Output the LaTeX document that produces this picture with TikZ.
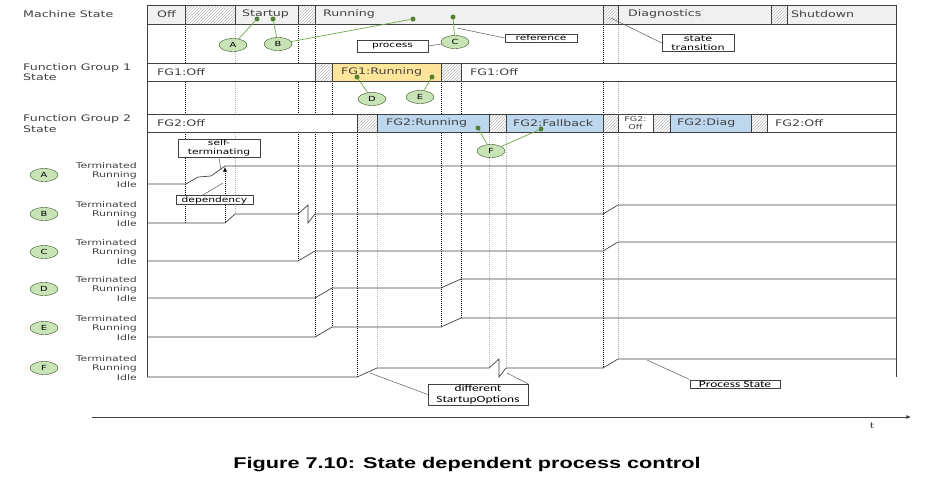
\documentclass[tikz,border=0pt]{standalone}
\usepackage{fontspec}
\setmainfont[FakeStretch=1.4]{DejaVu Sans}
\newfontfamily\carl[FakeStretch=1.4]{Carlito}
\newfontfamily\capf[FakeStretch=1.4]{Liberation Sans}
\usepackage{tikz}
\usetikzlibrary{arrows.meta,patterns,shapes.geometric}
\tikzset{>={Latex[width=1.4mm,length=1.6mm]}}
\definecolor{msgray}{RGB}{240,240,240}
\definecolor{fgyellow}{RGB}{255,229,153}
\definecolor{fgblue}{RGB}{189,215,238}
\definecolor{tagfill}{RGB}{200,228,182}
\definecolor{tagline}{RGB}{112,168,72}
\definecolor{tagdot}{RGB}{84,130,53}
\definecolor{ink}{RGB}{64,64,64}

\begin{document}
\begin{tikzpicture}[x=1pt,y=-1pt,font=\fontsize{9}{10}\selectfont]
\tikzstyle{bar}=[draw=ink,line width=0.7pt]
\tikzstyle{hatch}=[draw=ink,line width=0.6pt,preaction={fill=white},pattern=north east lines,pattern color=gray!55]
\tikzstyle{st}=[anchor=west,inner sep=0,text=ink]
\tikzstyle{proc}=[draw=ink,line width=0.7pt]
\tikzstyle{tr}=[black,line width=0.6pt,dash pattern=on 1.2pt off 0.8pt]
\tikzstyle{tg}=[gray!60,line width=0.6pt,dash pattern=on 1.2pt off 0.8pt]
\tikzstyle{tag}=[ellipse,draw=tagdot!60!black,fill=tagfill,minimum width=28pt,minimum height=13pt,inner sep=0,font=\fontsize{7}{7}\selectfont]
\tikzstyle{dot}=[circle,fill=tagdot,inner sep=0,minimum size=5pt]
\tikzstyle{note}=[draw=ink,fill=white,line width=0.6pt,align=center,inner xsep=0,inner ysep=1pt,font=\fontsize{7.6}{9}\selectfont]
\tikzstyle{lead}=[gray!70!black,line width=0.5pt]
\tikzstyle{link}=[tagline,line width=0.7pt]

\useasboundingbox (0,0) rectangle (936,480);

\foreach \x/\a/\b/\s in {185/24/223/tr,235/24/214/tg,298/24/261/tr,315/24/337/tr,332/81/327/tr,
  357/132/377/tr,377/132/368/tg,441/81/327/tr,461/81/318/tr,489/132/368/tg,506/132/368/tg,
  603/24/368/tr,618/24/359/tg}
  \draw[\s] (\x,\a) -- (\x,\b);
\draw[tr,->] (225,222) -- (225,167);

\draw[proc] (147,184) -- (186,184) -- (198,177) -- (211,176) -- (225,166) -- (896,166);
\draw[proc] (147,223) -- (225,223) -- (235,214) -- (298,214) -- (308,205) -- (308,223) -- (315,214)
  -- (603,214) -- (618,205) -- (896,205);
\draw[proc] (147,261) -- (298,261) -- (315,251) -- (603,251) -- (618,242) -- (896,242);
\draw[proc] (147,298) -- (315,298) -- (332,288) -- (441,288) -- (461,279) -- (896,279);
\draw[proc] (147,337) -- (315,337) -- (332,327) -- (441,327) -- (461,318) -- (896,318);
\draw[proc] (147,377) -- (357,377) -- (377,368) -- (489,368) -- (499,359) -- (499,377) -- (506,368)
  -- (603,368) -- (618,359) -- (896,359);
\draw[proc] (147,5) -- (147,377);
\draw[proc] (896,5) -- (896,377);

\draw[bar,fill=msgray] (147,5) rectangle (896,24);
\foreach \a/\b in {185/235,298/315,603/618,771/787}
  \draw[hatch] (\a,5) rectangle (\b,24);
\draw[bar,fill=white] (147,63) rectangle (896,81);
\draw[bar,fill=fgyellow] (332,63) rectangle (441,81);
\foreach \a/\b in {315/332,441/461}
  \draw[hatch] (\a,63) rectangle (\b,81);
\draw[bar,fill=white] (147,114) rectangle (896,132);
\foreach \a/\b in {377/489,506/603,670/751}
  \draw[bar,fill=fgblue] (\a,114) rectangle (\b,132);
\foreach \a/\b in {357/377,489/506,603/618,653/670,751/767}
  \draw[hatch] (\a,114) rectangle (\b,132);

\node[st] (ms1) at (157,14.5) {Off};
\node[st] (ms2) at (242,14.5) {Startup};
\node[st] (ms3) at (323,14.5) {Running};
\node[st] (ms4) at (628,14.5) {Diagnostics};
\node[st] (ms5) at (791,14.5) {Shutdown};
\node[st] (fg11) at (157,72) {FG1:Off};
\node[st] (fg12) at (341,72) {FG1:Running};
\node[st] (fg13) at (470,72) {FG1:Off};
\node[st] (fg21) at (157,123) {FG2:Off};
\node[st] (fg22) at (386,123) {FG2:Running};
\node[st] (fg23) at (513,123) {FG2:Fallback};
\node[text=ink,inner sep=0,align=center,font=\fontsize{6.8}{8}\selectfont] (fg24) at (635.5,123) {FG2:\\Off};
\node[st] (fg25) at (677,123) {FG2:Diag};
\node[st] (fg26) at (775,123) {FG2:Off};

\node[st] (lms) at (23,14.5) {Machine State};
\node[st,align=left,font=\fontsize{9}{10.5}\selectfont] (lfg1) at (23,72) {Function Group 1\\State};
\node[st,align=left,font=\fontsize{9}{10.5}\selectfont] (lfg2) at (23,123.5) {Function Group 2\\State};

\foreach \n/\y in {A/175,B/214,C/252,D/289,E/328,F/368} {
  \node[tag] (row\n) at (44,\y) {\n};
  \node[anchor=east,align=right,inner sep=0,text=ink,font=\fontsize{7.8}{9.3}\selectfont] (lab\n) at (137,\y) {Terminated\\Running\\Idle};
}

\node[tag] (tA) at (233,45) {A};
\node[tag] (tB) at (278,44) {B};
\node[tag] (tC) at (455,42) {C};
\node[tag] (tD) at (372,99) {D};
\node[tag] (tE) at (420,97) {E};
\node[tag] (tF) at (491,151) {F};
\node[dot] (dA) at (257,19) {};
\node[dot] (dB1) at (273,19) {};
\node[dot] (dB2) at (413,19) {};
\node[dot] (dC) at (453,17) {};
\node[dot] (dD) at (357,77) {};
\node[dot] (dE) at (432,77) {};
\node[dot] (dF1) at (478,128) {};
\node[dot] (dF2) at (541,129) {};
\draw[link] (tA) -- (dA);
\draw[link] (tB) -- (dB1);
\draw[link] (tB) -- (dB2);
\draw[link] (tC) -- (dC);
\draw[link] (tD) -- (dD);
\draw[link] (tE) -- (dE);
\draw[link] (tF) -- (dF1);
\draw[link] (tF) -- (dF2);

\node[note,minimum width=82pt] (nself) at (219,148) {self-\\terminating};
\node[note,minimum width=77pt] (ndep) at (214.5,200) {dependency};
\node[note,minimum width=71pt,minimum height=12pt] (nproc) at (392.5,46) {process};
\node[note,minimum width=72pt] (nref) at (541,38) {reference};
\node[note,minimum width=72pt,font=\fontsize{8}{9.5}\selectfont] (nstate) at (698,43) {state\\transition};
\node[note,minimum width=100pt,font=\carl\fontsize{9.6}{10.5}\selectfont] (nopt) at (478,394.5) {different\\StartupOptions};
\node[note,minimum width=90pt,font=\carl\fontsize{9.6}{10.5}\selectfont] (nps) at (735,384) {Process State};
\coordinate (pself) at (221,170);
\coordinate (pdep) at (223,183);
\coordinate (pref) at (457,28);
\coordinate (pst) at (611,18);
\coordinate (popt1) at (370,373);
\coordinate (popt2) at (507,373);
\coordinate (pps) at (647,360);
\draw[lead] (nself.south) -- (pself);
\draw[lead] (ndep.157) -- (pdep);
\draw[lead] (nproc.east) -- (tC);
\draw[lead] (nref.west) -- (pref);
\draw[lead] (nstate.west) -- (pst);
\draw[lead] (nopt.west) -- (popt1);
\draw[lead] (nopt.north east) -- (popt2);
\draw[lead] (nps.north west) -- (pps);

\coordinate (t0) at (92,417);
\coordinate (t1) at (911,417);
\draw[->,ink,line width=0.8pt] (t0) -- (t1);
\node[font=\carl\fontsize{9}{10}\selectfont,text=ink] (tl) at (872,426) {t};

\node[font=\capf\bfseries\fontsize{15.5}{18}\selectfont] (cap) at (467,465) {Figure 7.10: State dependent process control};
\end{tikzpicture}
\end{document}
